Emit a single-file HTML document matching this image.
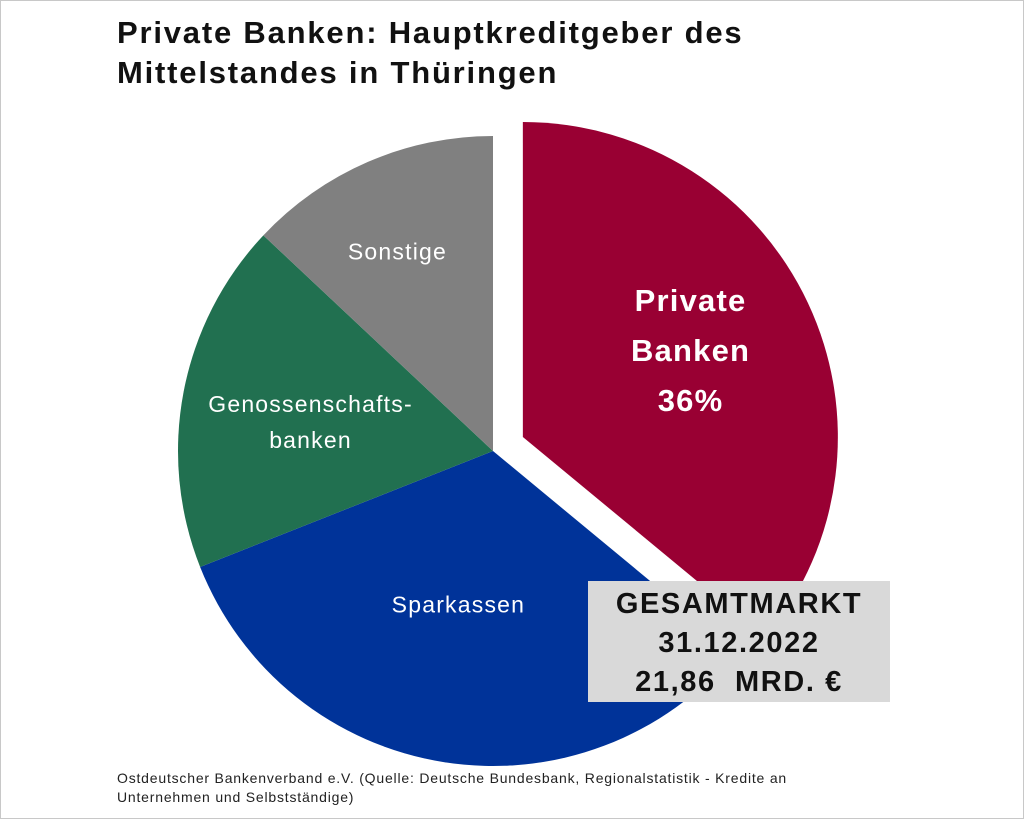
<!DOCTYPE html>
<html><head><meta charset="utf-8"><style>
body{margin:0;background:#fff;}
#wrap{position:relative;width:1022px;height:817px;border:1px solid #c8c8c8;font-family:"Liberation Sans","DejaVu Sans",sans-serif;overflow:hidden;}
.title{position:absolute;left:116px;top:12px;font-size:31px;font-weight:bold;line-height:40px;color:#111;letter-spacing:1.8px;}
.src{position:absolute;left:116px;top:768px;font-size:14px;line-height:19px;color:#222;letter-spacing:0.8px;}
svg{position:absolute;left:0;top:0;}
.box{position:absolute;left:587px;top:580px;width:302px;height:121px;background:#d9d9d9;text-align:center;font-size:29px;font-weight:bold;line-height:39px;color:#111;padding-top:4px;box-sizing:border-box;letter-spacing:1.6px;}
</style></head><body>
<div id="wrap">
<div class="title">Private Banken: Hauptkreditgeber des<br>Mittelstandes in Thüringen</div>
<svg id="pie" width="1022" height="817"></svg>
<div class="box">GESAMTMARKT<br>31.12.2022<br>21,86&nbsp; MRD. €</div>
<div class="src">Ostdeutscher Bankenverband e.V. (Quelle: Deutsche Bundesbank, Regionalstatistik - Kredite an<br>Unternehmen und Selbstständige)</div>
</div>
<script>
const categories=["Private Banken","Sparkassen","Genossenschaftsbanken","Sonstige"];
const values=[36,33,18,13];
const colors=["#990033","#003399","#217050","#808080"];
const labels=[["Private","Banken","36%"],["Sparkassen"],["Genossenschafts-","banken"],["Sonstige"]];
const svg=document.getElementById('pie');
const NS="http://www.w3.org/2000/svg";
const cx=492,cy=450,r=315;
const ldx=[-9,-6,-3,-23], ldy=[-4,-27,5,-32];
const total=values.reduce((a,b)=>a+b,0);
function pt(a,rad,ox,oy){return [ox+rad*Math.sin(a),oy-rad*Math.cos(a)];}
let start=0;
values.forEach((v,i)=>{
  const sweep=v/total*2*Math.PI, end=start+sweep, mid=start+sweep/2;
  const off=i===0?33:0;
  const ox=cx+off*Math.sin(mid), oy=cy-off*Math.cos(mid);
  const p1=pt(start,r,ox,oy),p2=pt(end,r,ox,oy);
  const path=document.createElementNS(NS,'path');
  path.setAttribute('d',`M${ox},${oy} L${p1[0]},${p1[1]} A${r},${r} 0 ${sweep>Math.PI?1:0} 1 ${p2[0]},${p2[1]} Z`);
  path.setAttribute('fill',colors[i]);
  
  
  svg.appendChild(path);
  const lr=i===0?0.62*r:0.58*r;
  const lp=pt(mid,lr,ox,oy);
  lp[0]+=ldx[i]; lp[1]+=ldy[i];
  const lines=labels[i];
  const big=i===0;
  const lh=big?50:36;
  lines.forEach((t,j)=>{
    const tx=document.createElementNS(NS,'text');
    tx.setAttribute('x',lp[0]);
    tx.setAttribute('y',lp[1]+(j-(lines.length-1)/2)*lh+(big?11:8));
    tx.setAttribute('text-anchor','middle');
    tx.setAttribute('fill','#fff');
    tx.setAttribute('font-size',big?31:23);
    if(big)tx.setAttribute('font-weight','bold');
    tx.setAttribute('letter-spacing','1.2');
    tx.setAttribute('font-family','"Liberation Sans",sans-serif');
    tx.textContent=t;
    
    
    svg.appendChild(tx);
  });
  start=end;
});
</script>
</body></html>
